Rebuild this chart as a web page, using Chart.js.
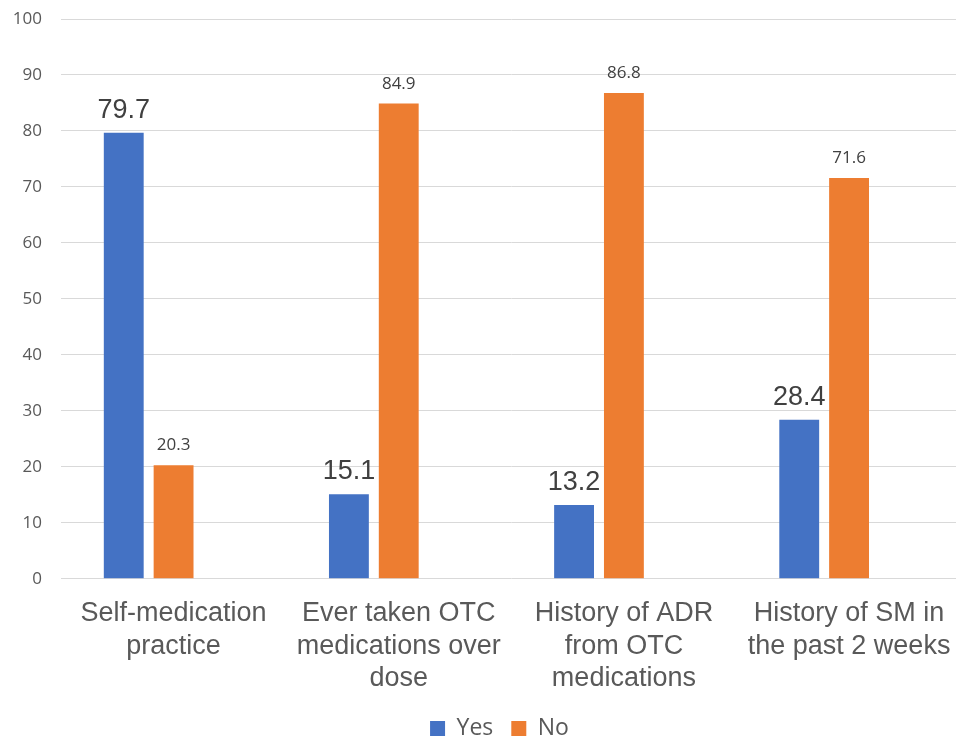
<!DOCTYPE html>
<html>
<head>
<meta charset="utf-8">
<script src="https://cdn.jsdelivr.net/npm/chart.js@4/dist/chart.umd.min.js"></script>
<style>
  html, body { margin: 0; padding: 0; background: #fff; overflow: hidden; }
  #wrap { width: 970px; height: 740px; }
</style>
</head>
<body>
<div id="wrap"><canvas id="chart" width="970" height="740"></canvas></div>
<script>
// categories and values
const categories = [
  ['Self-medication', 'practice'],
  ['Ever taken OTC', 'medications over', 'dose'],
  ['History of ADR', 'from OTC', 'medications'],
  ['History of SM in', 'the past 2 weeks']
];
const yesValues = [79.7, 15.1, 13.2, 28.4];
const noValues = [20.3, 84.9, 86.8, 71.6];
const spareValues = [null, null, null, null]; // empty third slot in each group
const yTicks = [0, 10, 20, 30, 40, 50, 60, 70, 80, 90, 100];

const BLUE = '#4472C4';
const ORANGE = '#ED7D31';
const GREY = '#595959';

// value labels above the bars
const barLabels = {
  id: 'barLabels',
  afterDatasetsDraw(chart) {
    const ctx = chart.ctx;
    ctx.save();
    ctx.textAlign = 'center';
    ctx.textBaseline = 'alphabetic';
    ctx.fillStyle = '#404040';
    [0, 1].forEach(di => {
      const meta = chart.getDatasetMeta(di);
      ctx.font = di === 0 ? '27px "Liberation Sans", Arial, sans-serif' : '17px "Open Sans", sans-serif';
      meta.data.forEach((bar, i) => {
        const v = chart.data.datasets[di].data[i];
        if (v == null) return;
        ctx.fillText(v.toFixed(1), bar.x, bar.y - 15);
      });
    });
    ctx.restore();
  }
};

// nudge the legend a bit right, like the original
const legendShift = {
  id: 'legendShift',
  afterLayout(chart) {
    if (!chart.legend) return;
    chart.legend.left += 12;
    chart.legend.right += 12;
  }
};

new Chart(document.getElementById('chart'), {
  type: 'bar',
  data: {
    labels: categories,
    datasets: [
      { label: 'Yes', data: yesValues, backgroundColor: BLUE },
      { label: 'No', data: noValues, backgroundColor: ORANGE },
      { label: '', data: spareValues, backgroundColor: 'rgba(0,0,0,0)' }
    ]
  },
  options: {
    responsive: false,
    animation: false,
    categoryPercentage: 0.664,
    barPercentage: 0.8,
    layout: { padding: { top: 19, left: 10, right: 5, bottom: -10 } },
    plugins: {
      tooltip: { enabled: false },
      legend: {
        position: 'bottom',
        labels: {
          filter: item => item.text !== '',
          boxWidth: 15,
          boxHeight: 15,
          padding: 18,
          color: GREY,
          font: { family: '"Open Sans", sans-serif', size: 23 }
        }
      }
    },
    scales: {
      x: {
        afterFit(scale) { scale.height -= 15; },
        grid: { display: false, drawTicks: false },
        border: { display: false },
        ticks: {
          color: GREY,
          maxRotation: 0,
          autoSkip: false,
          padding: 19,
          font: { family: '"Liberation Sans", Arial, sans-serif', size: 27, lineHeight: 1.2 }
        }
      },
      y: {
        min: 0,
        max: 100,
        afterFit(scale) {
          scale.width = 51;
          scale.paddingTop = 0;
          scale.paddingBottom = 0;
        },
        afterBuildTicks(scale) { scale.ticks = yTicks.map(v => ({ value: v })); },
        grid: { color: '#d9d9d9', lineWidth: 1, drawTicks: false },
        border: { display: false },
        ticks: {
          color: GREY,
          padding: 19,
          font: { family: '"Open Sans", sans-serif', size: 17 }
        }
      }
    }
  },
  plugins: [barLabels, legendShift]
});
</script>
</body>
</html>
